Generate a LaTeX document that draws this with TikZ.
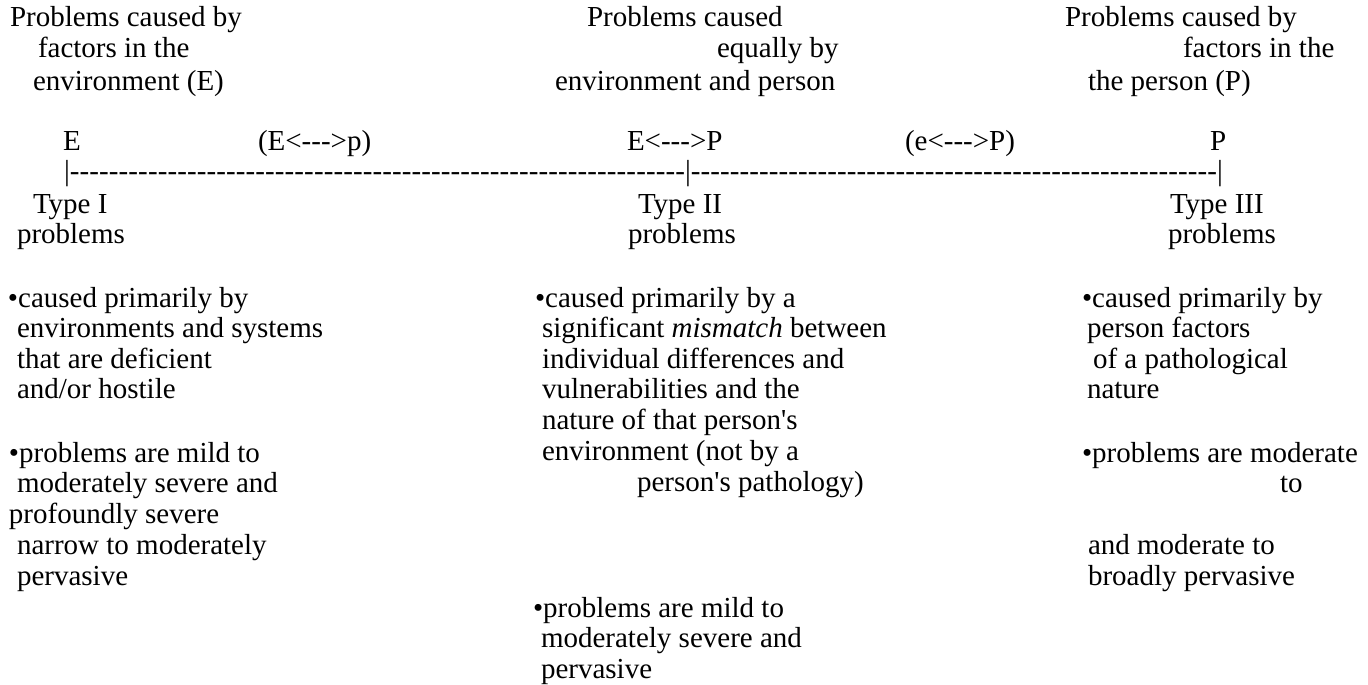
\documentclass[tikz,border=0pt]{standalone}
\usepackage{fontspec}
\setmainfont{Liberation Serif}[Ligatures=TeXOff]
\newcommand{\hyphfill}[1]{\hbox to #1{\xleaders\hbox{-}\hfill}}
\tikzset{txt/.style={anchor=base west, inner sep=0pt, outer sep=0pt, font=\fontsize{29}{31}\selectfont}}
\begin{document}
\begin{tikzpicture}[x=1pt,y=-1pt]
\useasboundingbox (0,0) rectangle (1368,685);
% ---------- top headings ----------
\node[txt] (l1) at (10,27) {Problems caused by};
\node[txt] (l2) at (38,58) {factors in the};
\node[txt] (l3) at (33,90) {environment (E)};
\node[txt] (c1) at (587,27) {Problems caused};
\node[txt] (c2) at (717,58) {equally by};
\node[txt] (c3) at (555,90) {environment and person};
\node[txt] (r1) at (1065,27) {Problems caused by};
\node[txt] (r2) at (1183,58) {factors in the};
\node[txt] (r3) at (1088,90) {the person (P)};
% ---------- scale labels ----------
\node[txt] (eL) at (63,150) {E};
\node[txt] (ep) at (258,150) {(E<--->p)};
\node[txt] (EP) at (627,150) {E<--->P};
\node[txt] (eP) at (905,150) {(e<--->P)};
\node[txt] (pR) at (1210,150) {P};
% ---------- axis (typed with bars and hyphens) ----------
\node[txt] (axis) at (64,180) {|\hyphfill{615.3pt}|\hyphfill{526.2pt}|};
% ---------- type labels ----------
\node[txt] (t1a) at (33,213) {Type I};
\node[txt] (t1b) at (17,243) {problems};
\node[txt] (t2a) at (638,213) {Type II};
\node[txt] (t2b) at (628,243) {problems};
\node[txt] (t3a) at (1170,213) {Type III};
\node[txt] (t3b) at (1168,243) {problems};
% ---------- left column ----------
\node[txt] (la1) at (8,307) {•caused primarily by};
\node[txt] (la2) at (17,337) {environments and systems};
\node[txt] (la3) at (17,368) {that are deficient};
\node[txt] (la4) at (17,398) {and/or hostile};
\node[txt] (lb1) at (9,462) {•problems are mild to};
\node[txt] (lb2) at (17,492) {moderately severe and};
\node[txt] (lb3) at (9,523) {profoundly severe};
\node[txt] (lb4) at (17,554) {narrow to moderately};
\node[txt] (lb5) at (17,585) {pervasive};
% ---------- centre column ----------
\node[txt] (ca1) at (535,307) {•caused primarily by a};
\node[txt] (ca2) at (542,337) {significant \textit{mismatch} between};
\node[txt] (ca3) at (542,368) {individual differences and};
\node[txt] (ca4) at (542,398) {vulnerabilities and the};
\node[txt] (ca5) at (542,429) {nature of that person's};
\node[txt] (ca6) at (542,460) {environment (not by a};
\node[txt] (ca7) at (637,491) {person's pathology)};
\node[txt] (cb1) at (533,617) {•problems are mild to};
\node[txt] (cb2) at (541,647) {moderately severe and};
\node[txt] (cb3) at (541,678) {pervasive};
% ---------- right column ----------
\node[txt] (ra1) at (1082,307) {•caused primarily by};
\node[txt] (ra2) at (1087,337) {person factors};
\node[txt] (ra3) at (1093,368) {of a pathological};
\node[txt] (ra4) at (1087,398) {nature};
\node[txt] (rb1) at (1082,462) {•problems are moderate};
\node[txt] (rb2) at (1280,492) {to};
\node[txt] (rb3) at (1088,554) {and moderate to};
\node[txt] (rb4) at (1088,585) {broadly pervasive};
\end{tikzpicture}
\end{document}
